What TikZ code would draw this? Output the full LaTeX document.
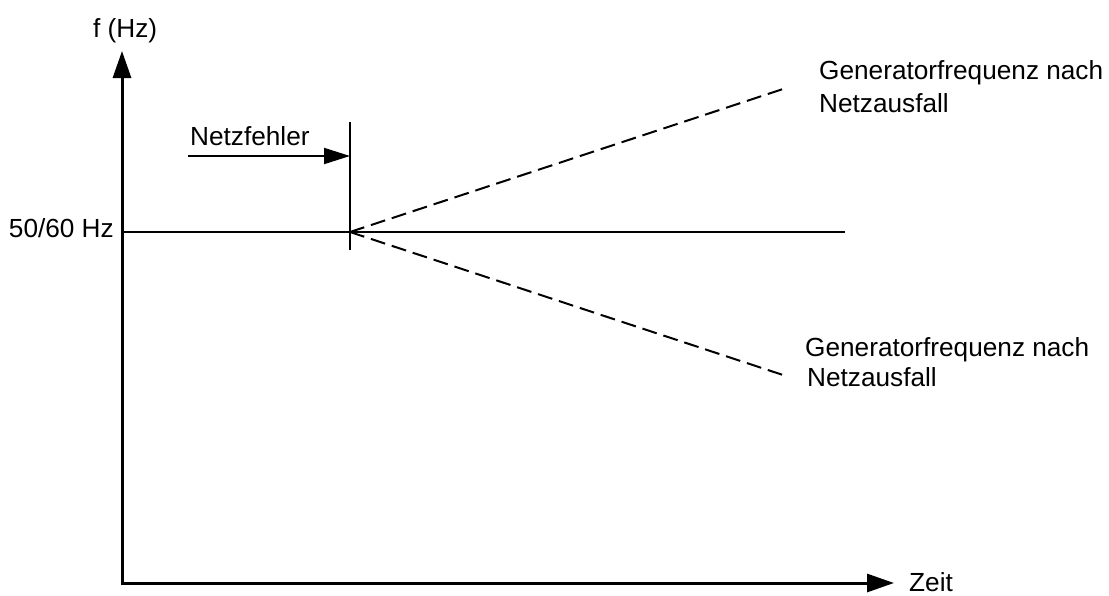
\documentclass[tikz,border=0pt]{standalone}
\usepackage{fontspec}
\setmainfont{Liberation Sans}
\usetikzlibrary{arrows.meta}
\begin{document}
\begin{tikzpicture}[x=1pt,y=-1pt,
  lbl/.style={inner sep=0pt, font=\fontsize{26.2}{31}\selectfont},
  axis/.style={line width=3pt, line join=miter},
  nominal/.style={line width=2pt},
  marker/.style={line width=1.5pt},
  drift/.style={line width=2pt, dash pattern=on 15pt off 7pt}
]
\useasboundingbox (0,0) rectangle (1109,595);

% axes
\coordinate (O) at (122,583);
\coordinate (ytip) at (122,51);
\coordinate (xtip) at (894,583);
\draw[axis,{Triangle[length=27pt,width=18pt]}-{Triangle[length=27pt,width=18pt]}]
  (ytip) -- (O) -- (xtip);
\node[lbl, anchor=base west] (fl) at (93,37) {f (Hz)};
\node[lbl, anchor=base west] (tl) at (909,591) {Zeit};

% nominal frequency
\coordinate (f0) at (122,232);
\coordinate (fend) at (845,232);
\coordinate (fault) at (350,232);
\draw[nominal] (f0) -- (fend);
\node[lbl, anchor=base east] (nl) at (114,237) {50/60 Hz};

% moment of the grid fault
\coordinate (mtop) at (350,122);
\coordinate (mbot) at (350,250);
\draw[marker] (mtop) -- (mbot);
\coordinate (astart) at (188,156);
\coordinate (aend) at (350,156);
\draw[nominal,-{Triangle[length=26pt,width=16pt]}] (astart) -- (aend);
\node[lbl, anchor=base west] (el) at (190,145) {Netzfehler};

% generator frequency after loss of grid
\coordinate (up) at (783,89);
\coordinate (down) at (783,375);
\draw[drift] (fault) -- (up);
\draw[drift] (fault) -- (down);
\node[lbl, anchor=base west] (g1) at (819,79) {Generatorfrequenz nach};
\node[lbl, anchor=base west] (g1b) at (819,112) {Netzausfall};
\node[lbl, anchor=base west] (g2) at (805,356) {Generatorfrequenz nach};
\node[lbl, anchor=base west] (g2b) at (807,386) {Netzausfall};
\end{tikzpicture}
\end{document}
